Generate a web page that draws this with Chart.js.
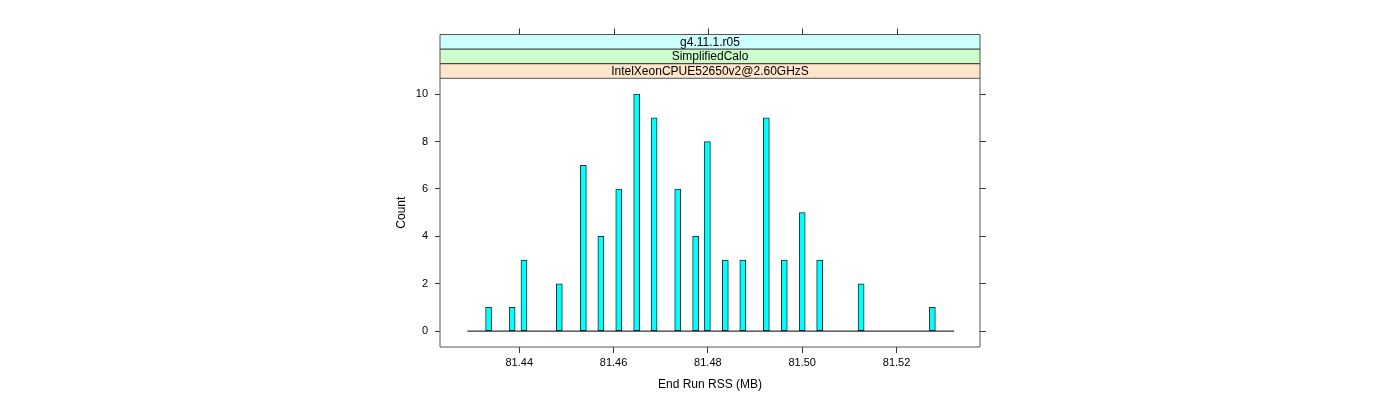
<!DOCTYPE html>
<html>
<head>
<meta charset="utf-8">
<title>End Run RSS</title>
<script src="https://cdn.jsdelivr.net/npm/chart.js@4/dist/chart.umd.min.js"></script>
<style>
  html, body { margin: 0; padding: 0; background: #fff; }
  #wrap { width: 1400px; height: 400px; }
</style>
</head>
<body>
<div id="wrap"><canvas id="chartRss" width="1400" height="400"></canvas></div>
<script>
// ===========================
// Dados
// ===========================
const rssValues = [81.4335, 81.4385, 81.4410, 81.4485, 81.4536, 81.4573, 81.4611, 81.4649, 81.4686, 81.4736,
                   81.4774, 81.4799, 81.4837, 81.4874, 81.4924, 81.4962, 81.5000, 81.5037, 81.5125, 81.5276];
const counts = [1, 1, 3, 2, 7, 4, 6, 10, 9, 6, 4, 8, 3, 3, 9, 3, 5, 3, 2, 1];
const baselineRange = [81.4290, 81.5322];
const xTicks = [81.44, 81.46, 81.48, 81.50, 81.52];
const yTicks = [0, 2, 4, 6, 8, 10];
const stripLabels = ["g4.11.1.r05", "SimplifiedCalo", "IntelXeonCPUE52650v2@2.60GHzS"];
const stripColors = ["#CCFFFF", "#CCFFCC", "#FFE5CC"];

// ===========================
// Configuração
// ===========================
Chart.defaults.font.family = "'Liberation Sans', Arial, sans-serif";
Chart.defaults.color = "#000";

const STRIP_H = 14.6;
const FRAME_COLOR = "#555";

// faixas (strips) do lattice em cima do painel + moldura
const stripPlugin = {
  id: "strips",
  afterDraw(chart) {
    const { ctx, chartArea } = chart;
    const left = chartArea.left, right = chartArea.right;
    const n = stripLabels.length;
    const top0 = chartArea.top - n * STRIP_H;

    ctx.save();
    ctx.lineWidth = 1;
    stripLabels.forEach((label, i) => {
      const y = top0 + i * STRIP_H;
      ctx.fillStyle = stripColors[i];
      ctx.fillRect(left, y, right - left, STRIP_H);
      ctx.strokeStyle = i === 0 ? FRAME_COLOR : "#222";
      ctx.beginPath();
      ctx.moveTo(left, y);
      ctx.lineTo(right, y);
      ctx.stroke();
      ctx.fillStyle = "#000";
      ctx.font = "12px 'Liberation Sans', Arial, sans-serif";
      ctx.textAlign = "center";
      ctx.textBaseline = "middle";
      ctx.fillText(label, (left + right) / 2, y + STRIP_H / 2 + 0.5);
    });

    // moldura do painel, incluindo as faixas
    ctx.strokeStyle = FRAME_COLOR;
    ctx.beginPath();
    ctx.moveTo(left, top0);
    ctx.lineTo(left, chartArea.bottom);
    ctx.lineTo(right, chartArea.bottom);
    ctx.lineTo(right, top0);
    ctx.moveTo(left, chartArea.top);
    ctx.lineTo(right, chartArea.top);
    ctx.stroke();

    // ticks do eixo de cima (acima das faixas)
    const xScale = chart.scales.x;
    ctx.strokeStyle = "#333";
    xTicks.forEach(v => {
      const x = Math.round(xScale.getPixelForValue(v)) + 0.5;
      ctx.beginPath();
      ctx.moveTo(x, top0);
      ctx.lineTo(x, top0 - 6);
      ctx.stroke();
    });
    ctx.restore();
  }
};

function fixedTicks(values) {
  return scale => { scale.ticks = values.map(v => ({ value: v })); };
}

const barData = rssValues.map((v, i) => ({ x: v, y: counts[i] }));
const baseData = baselineRange.map(v => ({ x: v, y: 0 }));

const ctx = document.getElementById("chartRss").getContext("2d");
new Chart(ctx, {
  type: "bar",
  data: {
    datasets: [
      {
        type: "bar",
        data: barData,
        backgroundColor: "#00FFFF",
        borderColor: "#113333",
        borderWidth: 1,
        borderSkipped: false,
        barThickness: 6,
        grouped: false,
        order: 2
      },
      {
        type: "line",
        data: baseData,
        borderColor: "#000",
        borderWidth: 1,
        pointRadius: 0,
        fill: false,
        order: 1
      }
    ]
  },
  options: {
    responsive: false,
    animation: false,
    devicePixelRatio: 1,
    layout: { padding: { left: 394, top: 78.3, right: 0, bottom: 0 } },
    plugins: {
      legend: { display: false },
      tooltip: { enabled: false }
    },
    scales: {
      x: {
        type: "linear",
        position: "bottom",
        offset: false,
        min: 81.4232,
        max: 81.5377,
        afterBuildTicks: fixedTicks(xTicks),
        afterFit: scale => { scale.height = 53; },
        border: { display: false },
        grid: { offset: false, drawOnChartArea: false, drawTicks: true, tickLength: 6, color: "#333" },
        ticks: {
          font: { size: 11 },
          padding: 3,
          maxRotation: 0,
          autoSkip: false,
          callback: v => Number(v).toFixed(2)
        },
        title: {
          display: true,
          text: "End Run RSS (MB)",
          font: { size: 12 },
          padding: { top: 0, bottom: 8 }
        }
      },
      y: {
        position: "left",
        min: -0.67,
        max: 10.67,
        afterBuildTicks: fixedTicks(yTicks),
        afterFit: scale => { scale.width = 46; },
        border: { display: false },
        grid: { drawOnChartArea: false, drawTicks: true, tickLength: 5, color: "#333" },
        ticks: { font: { size: 11 }, padding: 7 },
        title: {
          display: true,
          text: "Count",
          font: { size: 12 },
          padding: { top: 0, bottom: 0 }
        }
      },
      y2: {
        position: "right",
        min: -0.67,
        max: 10.67,
        afterBuildTicks: fixedTicks(yTicks),
        afterFit: scale => { scale.width = 420; },
        border: { display: false },
        grid: { drawOnChartArea: false, drawTicks: true, tickLength: 6, color: "#333" },
        ticks: { display: false }
      }
    }
  },
  plugins: [stripPlugin]
});
</script>
</body>
</html>
